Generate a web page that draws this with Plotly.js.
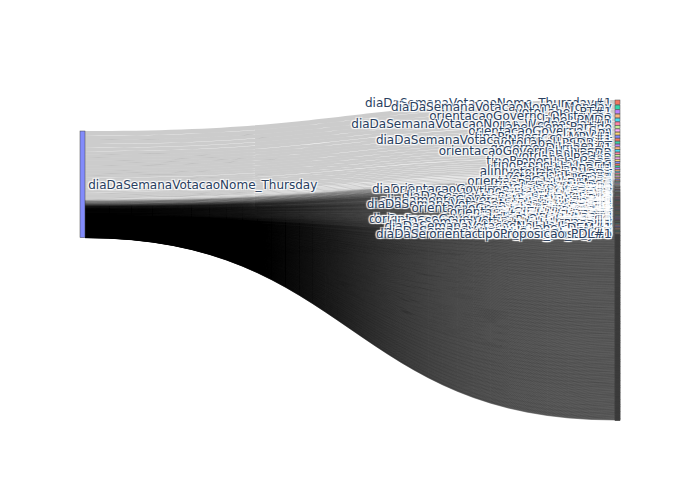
<!DOCTYPE html>
<html><head><meta charset="utf-8">
<script src="https://cdn.plot.ly/plotly-3.0.1.min.js"></script>
<style>html,body{margin:0;padding:0;background:#fff}#chart{width:700px;height:500px}</style>
</head><body><div id="chart"></div>
<script>
const sourceLabel = 'diaDaSemanaVotacaoNome_Thursday';

const topTargetLabels = [
 'diaDaSemanaVotacaoNome_Thursday#1','diaDaSemanaVotacaoNome_Monday','votoLabel_PT#1','orientacaoGoverno_Obstrucao','label_PMDB',
 'diaDaSemanaVotacaoNome_Wednesday#1','label_Sem_Partido','orientacaoGoverno_Sim','label_PL','tipoProposicao_MPV#1',
 'diaDaSemanaVotacaoNome_Sunday#1','votoLabel_PSDB#1','label_PT','governo_Dilma_2#1','orientacaoGoverno_Liberado',
 'label_PSDB','votoLabel_PP#1','label_PCdoB','tipoProposicao_PL#1','label_PSB',
 'tipoProposicao_PDC','label_DEM','votoLabel_PR#1','alinhamento_Governo','votoLabel_PHS#1',
 'label_PDT','governo_Temer_1','label_PTB','votoLabel_PSD#1','label_PSOL'
];
const topTargetValues = [
 106,98,89,83,77,73,68,64,62,60,
 58,56,54,52,50,48,46,44,42,39,
 38,35,33,31,29,27,26,25,24,23
];

const midTargetLabels = [
 'orientacaoGoverno_Nao','label_PR','votoLabel_DEM#1','tipoProposicao_PEC','label_PSD','governo_Dilma_1','votoLabel_PMDB#1','label_PP','diaDaSemanaVotacaoNome_Tuesday#1','orientacaoGoverno_Sem_Orientacao',
 'votoLabel_PSB#1','label_PPS','tipoProposicao_PLP#1','label_PSC','votoLabel_PDT#1','governo_Lula_2#1','label_PV','alinhamento_Nao','votoLabel_PTB#1','label_PROS',
 'diaDaSemanaVotacaoNome_Friday','label_SD','votoLabel_PSC#1','tipoProposicao_REQ#1','label_PRB','orientacaoGoverno_Sim#1','votoLabel_PCdoB#1','label_PHS','governo_Bolsonaro_1','alinhamentoGoverno_Nao_Alinhado#1',
 'label_PTdoB','alinhamento_Sim#1','votoLabel_PV#1','label_PMN','tipoProposicao_PRC','votoLabel_PSOL#1','label_PEN','diaDaSemanaVotacaoNome_Saturday#1','votoLabel_PROS#1','label_PTN',
 'votoLabel_PMN#1','label_PATRI','tipoProposicao_PDC#1','votoLabel_PEN#1','label_PODE','orientacaoGoverno_Obstrucao#1','governo_Temer_1#1','label_MDB','votoLabel_PSL#1','label_CIDADANIA',
 'governo_Dilma_1#1','votoLabel_REDE#1','label_REPUBLICANOS','orientacaoGoverno_Nao#1','votoLabel_NOVO#1','tipoProposicao_PLV#1','alinhamento_PT',
 'votoLabel_PATRI#1','label_PSDC','diaDaSemanaVotacaoNome_Wednesday','votoLabel_PODE#1','label_PRTB','governo_Lula_2','votoLabel_MDB#1','label_PTC','tipoProposicao_PEC#1','votoLabel_CIDADANIA#1',
 'label_PSTU','alinhamento_PSDB#1','orientacaoGoverno_Sem_Orientacao#1','label_PL#1','votoLabel_SOLIDARIEDADE#1','tipoProposicao_REQ','label_PT#1','votoLabel_PRP#1','diaDaSemanaVotacaoNome_Tuesday','label_PSDB#1',
 'votoLabel_PSDC#1','governo_Bolsonaro_1#1','label_PMDB#1','orientacaoGoverno_Liberado','votoLabel_PRTB#1','alinhamento_Governo#1','label_PP#1','tipoProposicao_PRC#1','diaDaSemanaVotacaoNome_Saturday','label_PR#1',
 'votoLabel_PSTU#1','orientacaoGoverno_Sim','label_PSD#1','tipoProposicao_PLP','diaDaSemanaVotacaoNome_Friday#1','votoLabel_PSDB','label_DEM#1','alinhamento_PMDB','orientacaoGoverno_Nao','label_Sem_Partido#1',
 'diaDaSemanaVotacaoNome_Sunday#1','orientacaoGoverno_Obstrucao','tipoProposicao_PDL#1'
];
const midTargetValues = [
 20,18,16,14,12,10,9,8,7,6,
 5,5,5,4,4,4,4,4,4,4,
 4,4,4,4,4,3,3,3,3,3,
 3,3,3,3,3,3,3,3,3,3,
 3,3,3,3,3,3,3,3,3,3,
 3,3,3,3,3,2,3,
 3,3,2,3,3,3,2,3,3,3,
 3,2,3,3,2,3,3,2,3,3,
 3,2,3,2,3,2,3,2,3,2,
 2,2,3,2,2,2,3,2,2,2,
 2,2,2
];

// targets that carry no label in the source data
const tailTargetValues = [
 2,1,1,1,1,1,1,1,1,1,1,1,1,1,1,1,1,1,1,1,1,1,1,1,1,1,1,2,1,1,1,1,1,1,1,1,1,1,1,1,1,1,1,1,1,1,1,1,1,1,
 1,1,1,1,1,1,1,1,1,1,1,1,1,1,1,1,1,1,1,1,1,1,1,1,1,1,1,1,1,1,1,1,1,1,1,1,1,1,1,1,1,1,1,1,1,1,1,1,1,1,
 1,1,1,1,1,1,1,1,1,1,1,1,1,1,1,1,1,1,1,1,1,1,1,1,1,1,1,1,1,1,1,1,1,1,1,1,1,1,1,1,1,1,1,1,1,1,1,1,1,1,
 1,1,1,1,1,1,1,1,1,1,1,1,1,1,1,1,1,1,1,1,1,1,1,1,1,1,1,1,1,1,1,1,1,1,1,1,1,1,1,1,1,1,1,1,1,1,1,1,1,1,
 1,1,1,1,1,1,1,1,1,1,1,1,1,1,1,1,1,1,1,1,1,1,1,1,1,1,1,1,1,1,1,1,1,1,1,1,1,1,1,1,1,1,1,1,1,1,1,1,1,1,
 1,1,1,1,1,1,1,1,1,1,1,1,1,1,1,1,1,1,1,1,1,1,1,1,1,1,1,1,1,1,1,1,1,1,1,1,1,1,1,1,1,1,1,1,1,1,1,1,1,1,
 1,1,1,1,1,1,1,1,1,1,1,1,1,1,1,1,1,1,1,1,1,1,1,1,1,1,1,1,1,1,1,1,1,1,1,1,1,1,1,1,1,1,1,1,1,1,1,1,1,1,
 1,1,1,1,1,1,1,1,1,1,1,1,1,1,1,1,1,1,1,1,1,1,1,1,1,1,1,1,1,1,1,1,1,1,1,1,1,1,1,1,1,1,1,1,1,1,1,1,1,1,
 1,1,1,1,1,1,1,1,1,1,1,1,1,1,1,1,1,1,1,1,1,1,1,1,1,1,1,1,1,1,1,1,1,1,1,1,1,1,1,1,1,1,1,1,1,1,1,1,1,1
];

const plotlyColorway = ['#636efa','#EF553B','#00cc96','#ab63fa','#FFA15A','#19d3f3','#FF6692','#B6E880','#FF97FF','#FECB52'];

// Build the sankey tables from the data arrays
const targetValues = topTargetValues.concat(midTargetValues, tailTargetValues);
const nodeLabels = [sourceLabel].concat(topTargetLabels, midTargetLabels);
const linkSource = targetValues.map(function () { return 0; });
const linkTarget = targetValues.map(function (v, i) { return i + 1; });

const fontFamily = '"DejaVu Sans", Verdana, sans-serif';

Plotly.newPlot('chart', [{
  type: 'sankey',
  orientation: 'h',
  node: {
    label: nodeLabels,
    thickness: 5,
    pad: 20,
    line: { color: '#444', width: 0.5 }
  },
  link: { source: linkSource, target: linkTarget, value: targetValues },
  textfont: { family: fontFamily, size: 12, color: '#2a3f5f' }
}], {
  width: 700,
  height: 500,
  margin: { l: 80, r: 80, t: 100, b: 80 },
  colorway: plotlyColorway,
  font: { family: fontFamily, size: 12, color: '#2a3f5f' },
  paper_bgcolor: 'white',
  plot_bgcolor: '#E5ECF6'
}, { displayModeBar: false });
</script>
</body></html>
